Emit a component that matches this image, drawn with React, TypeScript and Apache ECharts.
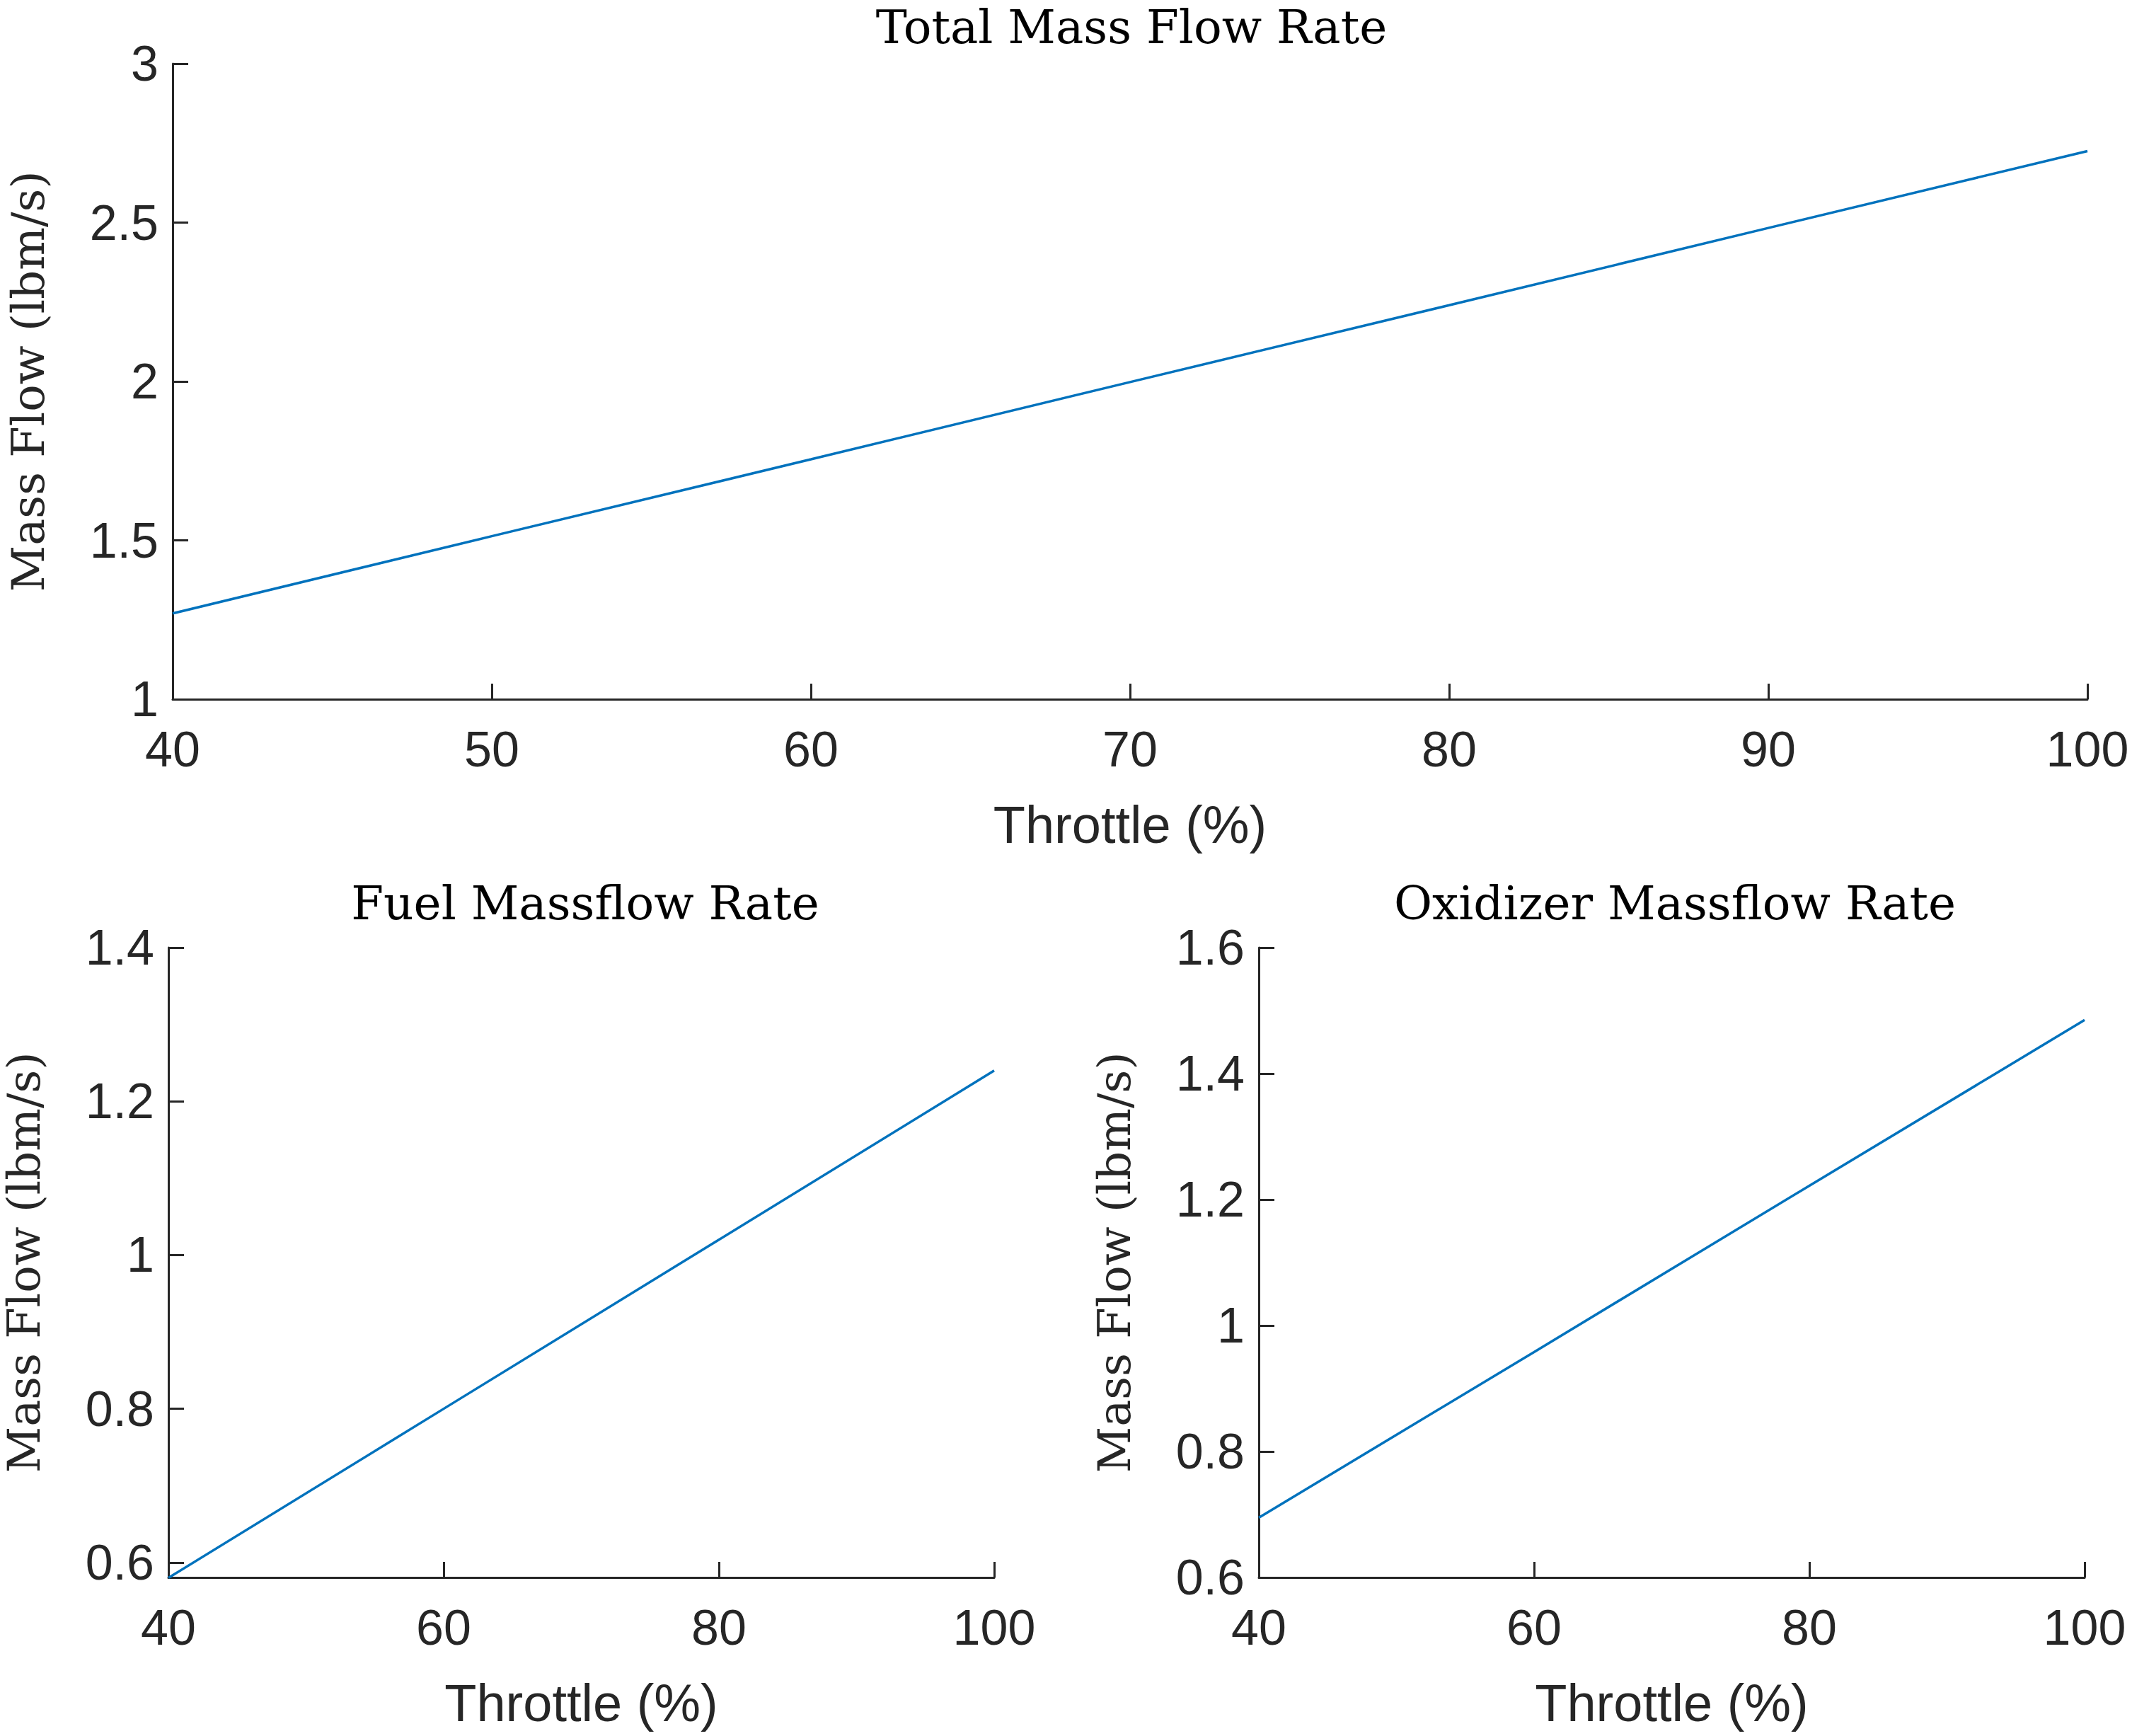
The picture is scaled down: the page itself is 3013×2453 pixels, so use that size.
import React, { useEffect, useRef } from "react";
import * as echarts from "echarts";

const totalX = [40, 50, 60, 70, 80, 90, 100];
const totalY = [1.27, 1.513, 1.755, 1.998, 2.24, 2.483, 2.725];
const fuelX = [40, 60, 80, 100];
const fuelY = [0.58, 0.8, 1.02, 1.24];
const oxX = [40, 60, 80, 100];
const oxY = [0.695, 0.958, 1.222, 1.485];
const topYTicks = [1, 1.5, 2, 2.5, 3];
const fuelYTicks = [0.6, 0.8, 1, 1.2, 1.4];
const oxYTicks = [0.6, 0.8, 1, 1.2, 1.4, 1.6];

const sans = "Liberation Sans";
const serif = "DejaVu Serif";
const axisColor = "#262626";

export default function App() {
  const ref = useRef<HTMLDivElement>(null);
  useEffect(() => {
    document.body.style.margin = "0";
    const chart = echarts.init(ref.current!, null, { renderer: "svg" });
    const xAxisBase = (grid: number, interval: number) => ({
      type: "value", gridIndex: grid, min: 40, max: 100, interval,
      name: "Throttle (%)", nameLocation: "middle", nameGap: 140,
      nameTextStyle: { fontFamily: sans, fontSize: 74, color: axisColor },
      axisLine: { lineStyle: { color: axisColor, width: 3 } },
      axisTick: { inside: true, length: 22, lineStyle: { color: axisColor, width: 3 } },
      axisLabel: { fontFamily: sans, fontSize: 70, color: axisColor, margin: 36 },
      splitLine: { show: false },
    });
    const yAxisBase = (grid: number, min: number, max: number, ticks: number[]) => ({
      type: "value", gridIndex: grid, min, max,
      name: "Mass Flow (lbm/s)", nameLocation: "middle", nameGap: 172,
      nameTextStyle: { fontFamily: serif, fontSize: 64, color: axisColor },
      axisLine: { show: true, lineStyle: { color: axisColor, width: 3 } },
      axisTick: { inside: true, length: 22, customValues: ticks, lineStyle: { color: axisColor, width: 3 } },
      axisLabel: { fontFamily: sans, fontSize: 70, color: axisColor, margin: 20, customValues: ticks, formatter: (v: number) => String(+v.toFixed(2)) },
      splitLine: { show: false },
    });
    const titleStyle = { fontFamily: serif, fontSize: 66, fontWeight: "normal", color: "#000" };
    chart.setOption({
      animation: false,
      backgroundColor: "#fff",
      title: [
        { text: "Total Mass Flow Rate", left: 1594, top: 0, textAlign: "center", textStyle: titleStyle },
        { text: "Fuel Massflow Rate", left: 822, top: 1238, textAlign: "center", textStyle: titleStyle },
        { text: "Oxidizer Massflow Rate", left: 2362, top: 1238, textAlign: "center", textStyle: titleStyle },
      ],
      grid: [
        { left: 238, top: 90, width: 2712, height: 898 },
        { left: 238, top: 1339, width: 1167, height: 890 },
        { left: 1779, top: 1339, width: 1167, height: 890 },
      ],
      xAxis: [xAxisBase(0, 10), xAxisBase(1, 20), xAxisBase(2, 20)],
      yAxis: [
        yAxisBase(0, 1, 3, topYTicks),
        yAxisBase(1, 0.5805, 1.4, fuelYTicks),
        yAxisBase(2, 0.6, 1.6, oxYTicks),
      ],
      series: [
        { type: "line", xAxisIndex: 0, yAxisIndex: 0, data: totalX.map((x, i) => [x, totalY[i]]) },
        { type: "line", xAxisIndex: 1, yAxisIndex: 1, data: fuelX.map((x, i) => [x, fuelY[i]]) },
        { type: "line", xAxisIndex: 2, yAxisIndex: 2, data: oxX.map((x, i) => [x, oxY[i]]) },
      ].map((s) => ({ ...s, showSymbol: false, lineStyle: { color: "#0072BD", width: 3.5 }, silent: true })),
    });
    return () => chart.dispose();
  }, []);
  return <div ref={ref} style={{ width: 3013, height: 2453 }} />;
}
